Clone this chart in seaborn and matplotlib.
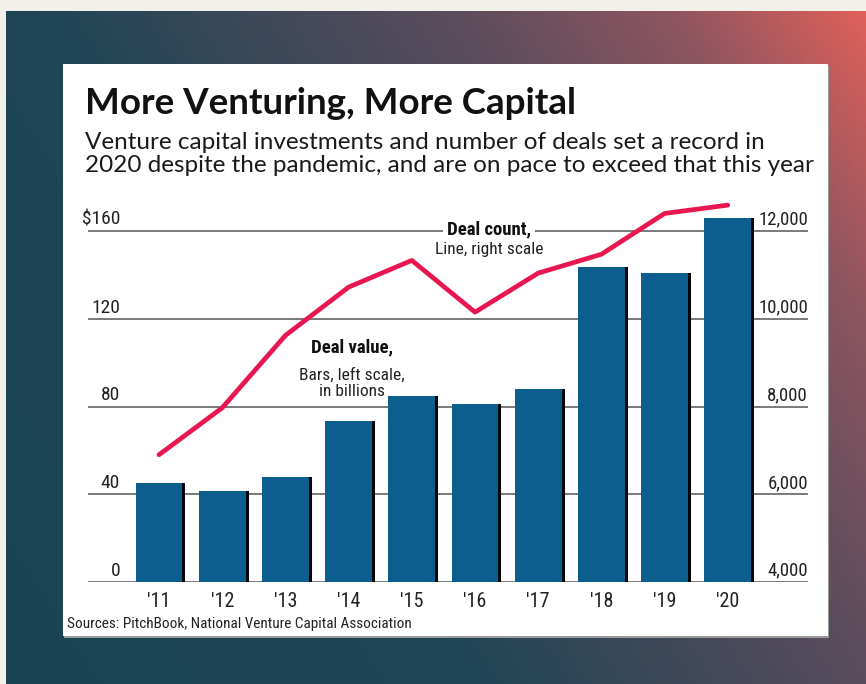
import numpy as np
import pandas as pd
import matplotlib
matplotlib.use("Agg")
import matplotlib.pyplot as plt
import matplotlib.patheffects as pe
from matplotlib.colors import LinearSegmentedColormap
from matplotlib.patches import Rectangle
import seaborn as sns

# ---- data ----
years = ["'11", "'12", "'13", "'14", "'15", "'16", "'17", "'18", "'19", "'20"]
deal_value = [45, 41.5, 48, 73.5, 85, 81, 88, 143.5, 141, 166]          # $ billions (bars, left)
deal_count = [6900, 7970, 9620, 10720, 11330, 10150, 11040, 11470, 12400, 12590]  # line, right
left_ticks = [0, 40, 80, 120, 160]
left_labels = ["0", "40", "80", "120", "$160"]
right_ticks = [4000, 6000, 8000, 10000, 12000]
right_labels = ["4,000", "6,000", "8,000", "10,000", "12,000"]

title = "More Venturing, More Capital"
subtitle = ("Venture capital investments and number of deals set a record in\n"
            "2020 despite the pandemic, and are on pace to exceed that this year")
source = "Sources: PitchBook, National Venture Capital Association"

sns.set_theme(style="white")
NARROW = ["Roboto Condensed", "DejaVu Sans"]
plt.rcParams["font.family"] = NARROW
plt.rcParams["font.stretch"] = "condensed"

W, H = 866, 684
fig = plt.figure(figsize=(W / 100, H / 100), dpi=100)
fig.patch.set_facecolor("#f1f0e9")

# ---- gradient background ----
bg = fig.add_axes([6 / W, 0, (W - 6) / W, (H - 11) / H])
bg.set_axis_off()
nx, ny = 300, 240
xx = np.linspace(0, 1, nx)[None, :]
yy = np.linspace(1, 0, ny)[:, None]   # 1 at top
t = (2 / 3) * xx + (1 / 3) * yy
cmap = LinearSegmentedColormap.from_list(
    "bg", [(0.0, "#1a4454"), (0.36, "#1f4556"), (0.67, "#594c5c"),
           (0.85, "#8d5560"), (1.0, "#df605a")])
bg.imshow(t, cmap=cmap, vmin=0, vmax=1, aspect="auto", extent=[0, 1, 0, 1])
bg.set_xlim(0, 1); bg.set_ylim(0, 1)

# ---- white card ----
card_l, card_r, card_t, card_b = 63, 828, 64, 636
fig.patches.append(Rectangle(((card_l + 1) / W, (H - card_b - 2) / H),
                             (card_r - card_l) / W, (card_b - card_t) / H,
                             transform=fig.transFigure, facecolor="#9a9a9a",
                             edgecolor="none", zorder=1))
fig.patches.append(Rectangle((card_l / W, (H - card_b) / H),
                             (card_r - card_l) / W, (card_b - card_t) / H,
                             transform=fig.transFigure, facecolor="white",
                             edgecolor="none", zorder=1.1))

# ---- titles ----
fig.text(85 / W, 1 - 103 / H, title, fontsize=26.5, fontweight="bold",
         family=["Lato", "DejaVu Sans"], stretch="normal", color="#111111",
         va="center", ha="left")
fig.text(85 / W, 1 - 154 / H, subtitle, fontsize=17.5, family=["Lato", "DejaVu Sans"],
         stretch="normal", color="#1a1a1a", va="center", ha="left", linespacing=1.12)
fig.text(67 / W, 1 - 624 / H, source, fontsize=11, color="#222222",
         va="center", ha="left")

# ---- main axes ----
ax_l, ax_r, ax_b, ax_t = 88, 808, 582, 200
ax = fig.add_axes([ax_l / W, (H - ax_b) / H, (ax_r - ax_l) / W, (ax_b - ax_t) / H])
ax.set_facecolor("none")
ax.set_zorder(2)

df = pd.DataFrame({"year": years, "value": deal_value, "count": deal_count})

sns.barplot(data=df, x="year", y="value", color="#0b5e8e", width=0.74,
            saturation=1, ax=ax)
for p in ax.patches:
    p.set_edgecolor("none")
    p.set_path_effects([pe.SimplePatchShadow(offset=(2.2, 0), shadow_rgbFace="#050505",
                                             alpha=1.0), pe.Normal()])

x_per_px = 63.2
ax.set_xlim((ax_l - 159) / x_per_px, (ax_r - 159) / x_per_px)
ymax = (ax_b - ax_t) / (87.75 / 40)
ax.set_ylim(0, ymax)
ax.set_yticks(left_ticks)
ax.set_yticklabels([])
ax.yaxis.grid(True, color="#6e6e6e", linewidth=1.3)
ax.set_axisbelow(True)
ax.tick_params(axis="both", length=0)
ax.tick_params(axis="x", labelsize=14.5, pad=7, colors="#222222")
ax.set_xlabel(""); ax.set_ylabel("")
for s in ax.spines.values():
    s.set_visible(False)

lt = ax.get_yaxis_transform()
for v, lab in zip(left_ticks, left_labels):
    ax.text((120 - ax_l) / (ax_r - ax_l), v + 1, lab, transform=lt, ha="right",
            va="bottom", fontsize=14, color="#222222")

# ---- twin axis for the line ----
ax2 = ax.twinx()
ax2.set_facecolor("none")
ax2.set_ylim(4000, 4000 + ymax * 50)
sns.lineplot(x=np.arange(len(years)), y=deal_count, ax=ax2, color="#e8174f",
             linewidth=3.4, solid_capstyle="round", solid_joinstyle="round")
ax2.set_xlim(ax.get_xlim())
ax2.set_yticks(right_ticks)
ax2.set_yticklabels([])
ax2.tick_params(length=0)
ax2.grid(False)
for s in ax2.spines.values():
    s.set_visible(False)
rt = ax2.get_yaxis_transform()
for v, lab in zip(right_ticks, right_labels):
    ax2.text(1.0, v + 50, lab, transform=rt, ha="right", va="bottom",
             fontsize=13.5, color="#222222")

# ---- annotations ----
def px2data_x(px):
    return (px - 159) / x_per_px

ax.text(px2data_x(489), 160 + 0.5, "Deal count,", ha="center", va="center",
        fontsize=13.5, fontweight="bold", color="#111111", zorder=5,
        bbox=dict(facecolor="white", edgecolor="none", pad=3))
ax.text(px2data_x(489), 160 - 8.5, "Line, right scale", ha="center", va="center",
        fontsize=12.5, color="#222222", zorder=6)
ax.text(px2data_x(352), 107, "Deal value,", ha="center", va="center",
        fontsize=13.5, fontweight="bold", color="#111111", zorder=5)
ax.text(px2data_x(352), 97.5, "Bars, left scale,\nin billions", ha="center",
        va="top", fontsize=12.5, color="#222222", zorder=5, linespacing=1.05)

fig.savefig("out.png", dpi=100, facecolor=fig.get_facecolor())
